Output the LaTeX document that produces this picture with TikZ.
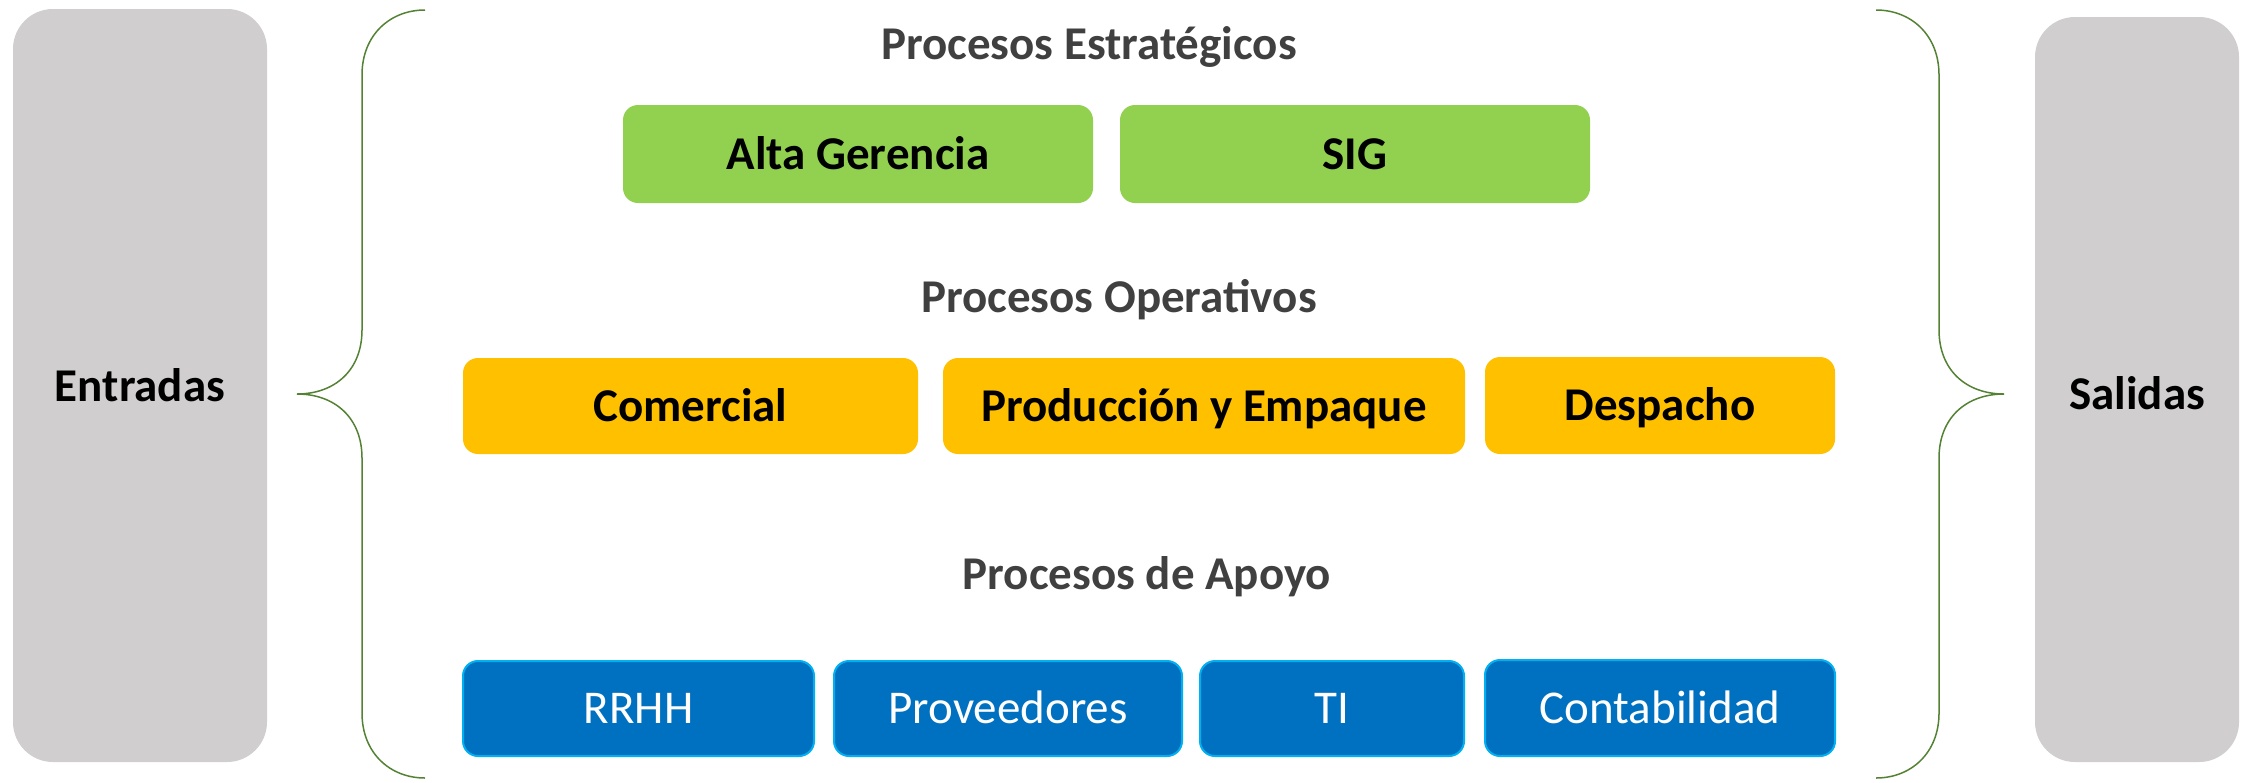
\documentclass[tikz,border=0pt]{standalone}
\usepackage{fontspec}
\setmainfont{Carlito}

\definecolor{grisbox}{RGB}{208,206,206}
\definecolor{verdebox}{RGB}{146,208,80}
\definecolor{naranjabox}{RGB}{255,192,0}
\definecolor{azulbox}{RGB}{0,112,192}
\definecolor{azulborde}{RGB}{0,176,240}
\definecolor{llave}{RGB}{84,130,53}
\definecolor{titulo}{RGB}{64,64,64}

\tikzset{every picture/.style={line width=0.75pt}}
\tikzset{
  lado/.style={fill=grisbox, draw=none, rounded corners=20pt},
  estrat/.style={fill=verdebox, draw=none, rounded corners=7.5pt, inner sep=0pt, text height=15pt, text depth=0pt, font=\fontsize{23.5}{28}\selectfont\bfseries},
  operat/.style={fill=naranjabox, draw=none, rounded corners=7.5pt, inner sep=0pt, text height=15pt, text depth=0pt, font=\fontsize{23.5}{28}\selectfont\bfseries},
  apoyo/.style={fill=azulbox, draw=azulborde, line width=1pt, rounded corners=7.5pt, inner sep=0pt, text height=15pt, text depth=0pt, text=white, font=\fontsize{23.5}{28}\selectfont},
  grupo/.style={text=titulo, inner sep=0pt, text height=15pt, text depth=0pt, font=\fontsize{23.5}{28}\selectfont\bfseries},
  lbl/.style={inner sep=0pt, text height=15pt, text depth=0pt, font=\fontsize{23.5}{28}\selectfont\bfseries},
}

\begin{document}
\begin{tikzpicture}[x=0.5pt,y=0.5pt,yscale=-1]
\useasboundingbox (0,0) rectangle (2246,782);

%Shape: Rounded Rect [id:entradas]
\draw [lado] (13,9) rectangle (267,762);
%Shape: Rounded Rect [id:salidas]
\draw [lado] (2035,17) rectangle (2239,762);

%Shape: Brace [id:llaveizq]
\draw [llave] (425,10) .. controls (390,10) and (362,35) .. (362,75) -- (362,330) .. controls (362,370) and (335,394) .. (297,394) .. controls (335,394) and (362,418) .. (362,458) -- (362,713) .. controls (362,753) and (390,778) .. (425,778) ;
%Shape: Brace [id:llaveder]
\draw [llave] (1876,10) .. controls (1911,10) and (1939,35) .. (1939,75) -- (1939,330) .. controls (1939,370) and (1966,394) .. (2004,394) .. controls (1966,394) and (1939,418) .. (1939,458) -- (1939,713) .. controls (1939,753) and (1911,778) .. (1876,778) ;

% Text Node
\node [lbl] (entradas) at (140,386) {Entradas};
% Text Node
\node [lbl] (salidas) at (2137,394) {Salidas};

% Text Node
\node [grupo] (tituloest) at (1089,44) {Procesos Estratégicos};
% Text Node
\node [grupo] (tituloop) at (1119,297) {Procesos Operativos};
% Text Node
\node [grupo] (tituloap) at (1147,574) {Procesos de Apoyo};

%Shape: Rounded Rect [id:altagerencia]
\node [estrat, minimum width=235pt, minimum height=49pt] (altagerencia) at (858,154) {Alta Gerencia};
%Shape: Rounded Rect [id:sig]
\node [estrat, minimum width=235pt, minimum height=49pt] (sig) at (1355,154) {SIG};

%Shape: Rounded Rect [id:comercial]
\node [operat, minimum width=227.5pt, minimum height=48pt] (comercial) at (690.5,406) {Comercial};
%Shape: Rounded Rect [id:produccion]
\node [operat, minimum width=261pt, minimum height=48pt] (produccion) at (1204,406) {Producción y Empaque};
%Shape: Rounded Rect [id:despacho]
\node [operat, minimum width=175pt, minimum height=48.5pt] (despacho) at (1660,405.5) {Despacho};

%Shape: Rounded Rect [id:rrhh]
\node [apoyo, minimum width=175.5pt, minimum height=47.5pt] (rrhh) at (638.5,708.5) {RRHH};
%Shape: Rounded Rect [id:proveedores]
\node [apoyo, minimum width=174pt, minimum height=47.5pt] (proveedores) at (1008,708.5) {Proveedores};
%Shape: Rounded Rect [id:ti]
\node [apoyo, minimum width=132pt, minimum height=47.5pt] (ti) at (1332,708.5) {TI};
%Shape: Rounded Rect [id:contabilidad]
\node [apoyo, minimum width=175pt, minimum height=48pt] (contabilidad) at (1660,708) {Contabilidad};

\end{tikzpicture}
\end{document}
